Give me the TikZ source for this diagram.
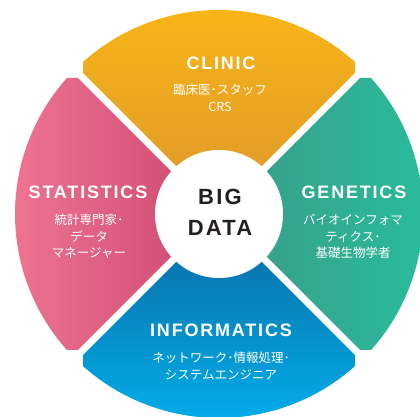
\documentclass[tikz,border=0pt]{standalone}
\usepackage{fontspec}
\newfontfamily\hf[LetterSpace=10]{Liberation Sans}
\newfontfamily\jp{Noto Sans CJK JP}
\definecolor{clinT}{HTML}{F9B715}
\definecolor{clinB}{HTML}{DE972C}
\definecolor{statL}{HTML}{F07894}
\definecolor{statR}{HTML}{CD466F}
\definecolor{geneL}{HTML}{3A9B88}
\definecolor{geneR}{HTML}{28BE9C}
\definecolor{infoT}{HTML}{0A68A2}
\definecolor{infoB}{HTML}{02B2EE}
\definecolor{bigtxt}{HTML}{231F20}
\tikzset{
  title/.style={text=white,font=\hf\bfseries\fontsize{18}{18}\selectfont,inner sep=0pt},
  sub/.style={text=white,font=\jp\fontsize{12.5}{16.5}\selectfont,align=center,inner sep=0pt},
  petal/.style={draw=none}
}
\begin{document}
\begin{tikzpicture}[x=1pt,y=1pt]
\useasboundingbox (0,0) rectangle (420,417);
\begin{scope}[shift={(219,203)}]
  % CLINIC (up)
  \shade[petal,top color=clinT,bottom color=clinB]
    (0,5.2) -- (-136,141.2) -- (131.81:204pt) arc[start angle=131.81,end angle=48.19,radius=204pt] -- (136,141.2) -- cycle;
  % STATISTICS (left)
  \shade[petal,left color=statL,right color=statR]
    (-5.2,0) -- (-141.2,-136) -- (221.81:204pt) arc[start angle=221.81,end angle=138.19,radius=204pt] -- (-141.2,136) -- cycle;
  % INFORMATICS (down)
  \shade[petal,top color=infoT,bottom color=infoB]
    (0,-5.2) -- (136,-141.2) -- (311.81:204pt) arc[start angle=311.81,end angle=228.19,radius=204pt] -- (-136,-141.2) -- cycle;
  % GENETICS (right)
  \shade[petal,left color=geneL,right color=geneR]
    (5.2,0) -- (141.2,136) -- (41.81:204pt) arc[start angle=41.81,end angle=-41.81,radius=204pt] -- (141.2,-136) -- cycle;
  \fill[white] (0,0) circle[radius=64pt];
\end{scope}
\node[title] (clinic) at (221,354) {CLINIC};
\node[sub] (clinicsub) at (220,319) {臨床医･スタッフ\\CRS};
\node[title] (stat) at (88,225) {STATISTICS};
\node[sub] (statsub) at (89,180.5) {統計専門家･\\データ\\マネージャー};
\node[title] (gene) at (354,225) {GENETICS};
\node[sub] (genesub) at (353,180.5) {バイオインフォマ\\ティクス･\\基礎生物学者};
\node[title] (info) at (221,87) {INFORMATICS};
\node[sub] (infosub) at (221,51) {ネットワーク･情報処理･\\システムエンジニア};
\node[text=bigtxt,font=\hf\bfseries\fontsize{22}{30.5}\selectfont,align=center,inner sep=0pt] (big) at (220,204.5) {BIG\\DATA};
\end{tikzpicture}
\end{document}
